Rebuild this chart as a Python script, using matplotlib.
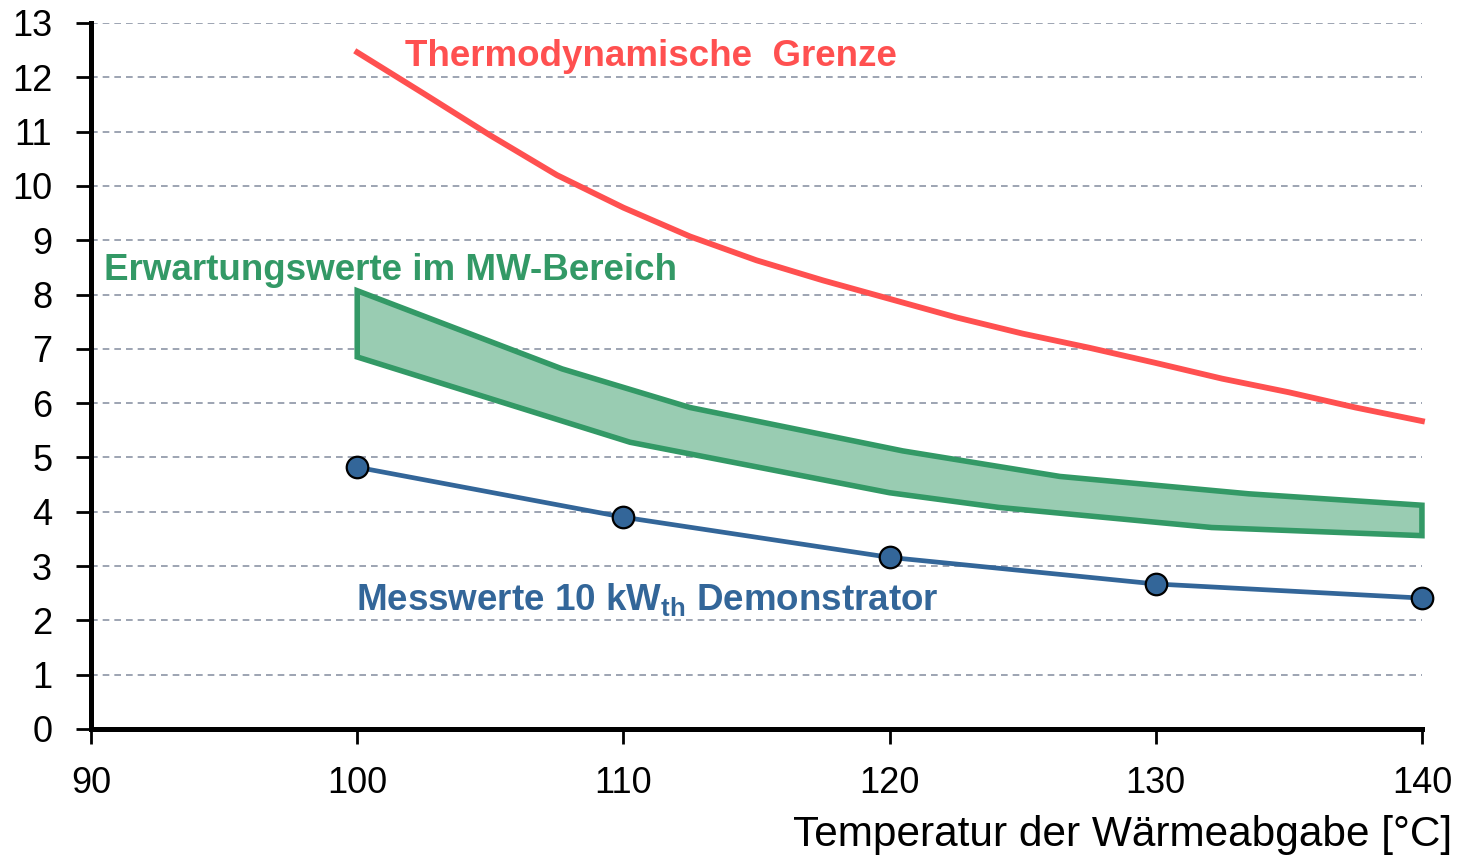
import matplotlib
matplotlib.use("Agg")
import matplotlib.pyplot as plt
import numpy as np

plt.rcParams['font.family'] = ['Liberation Sans', 'DejaVu Sans']

# Data
red_x = [100, 102.5, 105, 107.5, 110, 112.5, 115, 117.5, 120, 122.5, 125, 127.5, 130, 132.5, 135, 137.5, 140]
red_y = [12.46, 11.7, 10.93, 10.2, 9.6, 9.07, 8.63, 8.26, 7.92, 7.58, 7.28, 7.02, 6.74, 6.45, 6.2, 5.92, 5.67]

band_upper_x = [100, 107.7, 112.5, 120.5, 126.4, 133.5, 140]
band_upper_y = [8.07, 6.63, 5.92, 5.12, 4.65, 4.33, 4.12]
band_lower_x = [100, 110.25, 120, 124.1, 132.1, 140]
band_lower_y = [6.85, 5.28, 4.35, 4.08, 3.71, 3.56]

meas_x = [100, 110, 120, 130, 140]
meas_y = [4.82, 3.90, 3.16, 2.67, 2.41]

x_ticks = [90, 100, 110, 120, 130, 140]
y_ticks = list(range(0, 14))

RED = '#FF5050'
GREEN = '#339966'
GREEN_FILL = '#99CCB2'
BLUE = '#336699'
GRID = '#8C95A5'

fig = plt.figure(figsize=(14.59, 8.55), dpi=100)
ax = fig.add_axes([0.0624, 0.1474, 0.9122, 0.8257])

ax.set_xlim(90, 140)
ax.set_ylim(0, 13)

for yv in y_ticks[1:]:
    ax.axhline(yv, color=GRID, lw=1.2, ls=(0, (4, 3)), zorder=1)

# band polygon
poly_x = np.concatenate([band_upper_x, band_lower_x[::-1]])
poly_y = np.concatenate([band_upper_y, band_lower_y[::-1]])
ax.fill(poly_x, poly_y, facecolor=GREEN_FILL, edgecolor=GREEN, lw=4.0,
        joinstyle='miter', zorder=3, clip_on=False)

ax.plot(red_x, red_y, color=RED, lw=4.2, zorder=4, clip_on=False)

ax.plot(meas_x, meas_y, color=BLUE, lw=3.4, zorder=5, clip_on=False,
        marker='o', markersize=15.5, markerfacecolor=BLUE,
        markeredgecolor='black', markeredgewidth=1.6)

ax.text(101.8, 12.39, 'Thermodynamische  Grenze', color=RED, fontsize=26.5,
        fontweight='bold', ha='left', va='center', zorder=6)
ax.text(90.5, 8.44, 'Erwartungswerte im MW-Bereich', color=GREEN, fontsize=26.5,
        fontweight='bold', ha='left', va='center', zorder=6)
ax.text(99.95, 2.36, r'Messwerte 10 kW$_{\mathregular{th}}$ Demonstrator', color=BLUE,
        fontsize=26.5, fontweight='bold', ha='left', va='center', zorder=6)

for s in ['top', 'right']:
    ax.spines[s].set_visible(False)
for s in ['left', 'bottom']:
    ax.spines[s].set_linewidth(3.6)
    ax.spines[s].set_color('black')

ax.set_xticks(x_ticks)
ax.set_yticks(y_ticks)
ax.tick_params(axis='both', direction='out', length=11, width=2.0, labelsize=26, color='black')
ax.tick_params(axis='x', pad=16)
ax.tick_params(axis='y', pad=17)

fig.text(0.995, 0.023, 'Temperatur der Wärmeabgabe [°C]', fontsize=30.5, ha='right', va='center')

fig.savefig('out.png', dpi=100)
